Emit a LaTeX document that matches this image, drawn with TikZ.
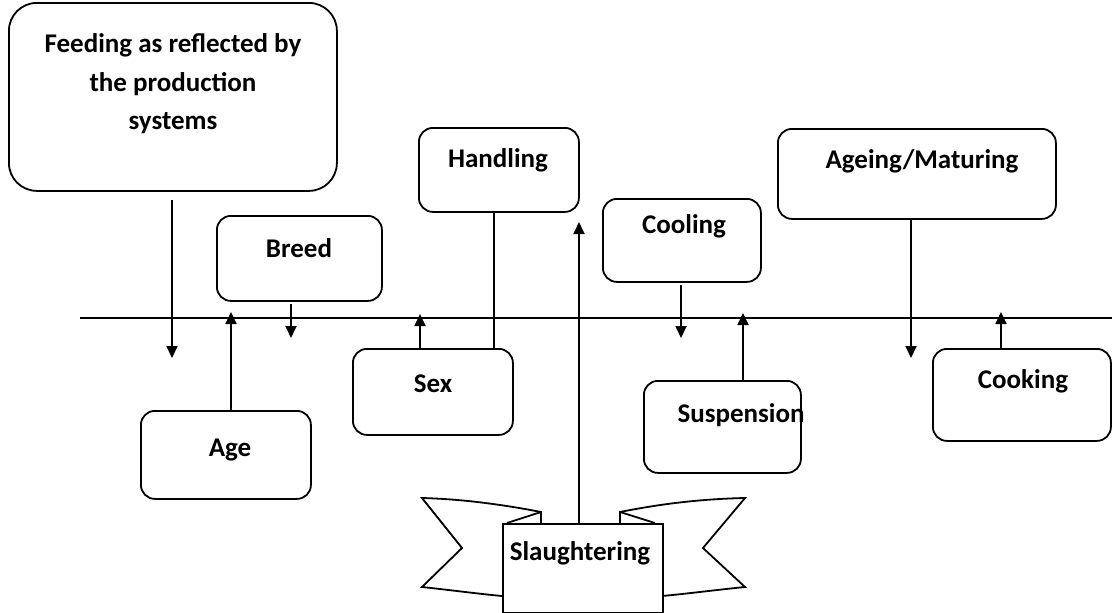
\documentclass[tikz,border=0pt]{standalone}
\usepackage{fontspec}
\setmainfont{Carlito}
\usetikzlibrary{arrows.meta}
\begin{document}
\begin{tikzpicture}[x=1pt,y=-1pt,
  box/.style={draw, line width=1.8pt, rounded corners=14pt, inner sep=0pt, anchor=north west},
  txt/.style={font=\fontsize{27}{38.5}\selectfont\bfseries, align=center, inner sep=0pt, anchor=base},
  arr/.style={line width=1.8pt, -{Triangle[length=12pt,width=11pt]}},
  ln/.style={line width=1.8pt}]
\useasboundingbox (0,0) rectangle (1112,613);
% horizontal axis
\coordinate (axL) at (80,318);
\coordinate (axR) at (1112,318);
\draw[ln] (axL) -- (axR);
% boxes
\node[box, rounded corners=28pt, minimum width=328pt, minimum height=188pt] (feed) at (8,2) {};
\node[txt, anchor=center] (feedT) at (173,84) {Feeding as reflected by\\the production\\systems};
\node[box, minimum width=165pt, minimum height=85pt] (breed) at (216,215) {};
\node[txt] (breedT) at (299,257) {Breed};
\node[box, minimum width=170pt, minimum height=88pt] (age) at (140,410) {};
\node[txt] (ageT) at (230,456) {Age};
\node[box, minimum width=160pt, minimum height=86pt] (sex) at (352,348) {};
\node[txt] (sexT) at (433,392) {Sex};
\node[box, minimum width=160pt, minimum height=84pt] (hand) at (418,127) {};
\node[txt] (handT) at (498,167) {Handling};
\node[box, minimum width=158pt, minimum height=83pt] (cool) at (602,198) {};
\node[txt] (coolT) at (684,233) {Cooling};
\node[box, minimum width=157pt, minimum height=92pt] (susp) at (643,380) {};
\node[txt] (suspT) at (741,422) {Suspension};
\node[box, minimum width=278pt, minimum height=90pt] (ageing) at (777,128) {};
\node[txt] (ageingT) at (922,168) {Ageing/Maturing};
\node[box, minimum width=178pt, minimum height=92pt] (cook) at (932,348) {};
\node[txt] (cookT) at (1023,388) {Cooking};
% banner
\draw[ln, fill=white] (541,523) -- (541,512) .. controls (500,504) and (460,499) .. (422,498) -- (462,548) -- (422,587) .. controls (450,590) and (480,594) .. (502,596);
\draw[ln] (507,523) -- (541,512);
\draw[ln, fill=white] (620,523) -- (620,512) .. controls (660,504) and (700,499) .. (745,498) -- (703,548) -- (745,587) .. controls (715,590) and (685,594) .. (662,596);
\draw[ln] (620,512) -- (655,523);
\node[draw, line width=1.8pt, fill=white, minimum width=160pt, minimum height=89pt, inner sep=0pt, anchor=north west] (slau) at (502,523) {};
\node[txt] (slauT) at (580,560) {Slaughtering};
% arrow end coordinates
\coordinate (feedE) at (172,358);
\coordinate (breedE) at (291,338);
\coordinate (ageE) at (231,312);
\coordinate (sexE) at (420,314);
\coordinate (handX) at (494,0);
\coordinate (slauE) at (579,222);
\coordinate (coolE) at (681,338);
\coordinate (suspE) at (743,313);
\coordinate (ageingE) at (911,358);
\coordinate (cookE) at (1001,312);
% connectors
\draw[arr] ([yshift=-8pt]feed.south -| feedE) -- (feedE);
\draw[arr] ([yshift=-2pt]breed.south -| breedE) -- (breedE);
\draw[arr] (age.north -| ageE) -- (ageE);
\draw[arr] (sex.north -| sexE) -- (sexE);
\draw[ln] (hand.south -| handX) -- (sex.north -| handX);
\draw[arr] (slau.north -| slauE) -- (slauE);
\draw[arr] ([yshift=-2pt]cool.south -| coolE) -- (coolE);
\draw[arr] (susp.north -| suspE) -- (suspE);
\draw[arr] (ageing.south -| ageingE) -- (ageingE);
\draw[arr] (cook.north -| cookE) -- (cookE);
\end{tikzpicture}
\end{document}
